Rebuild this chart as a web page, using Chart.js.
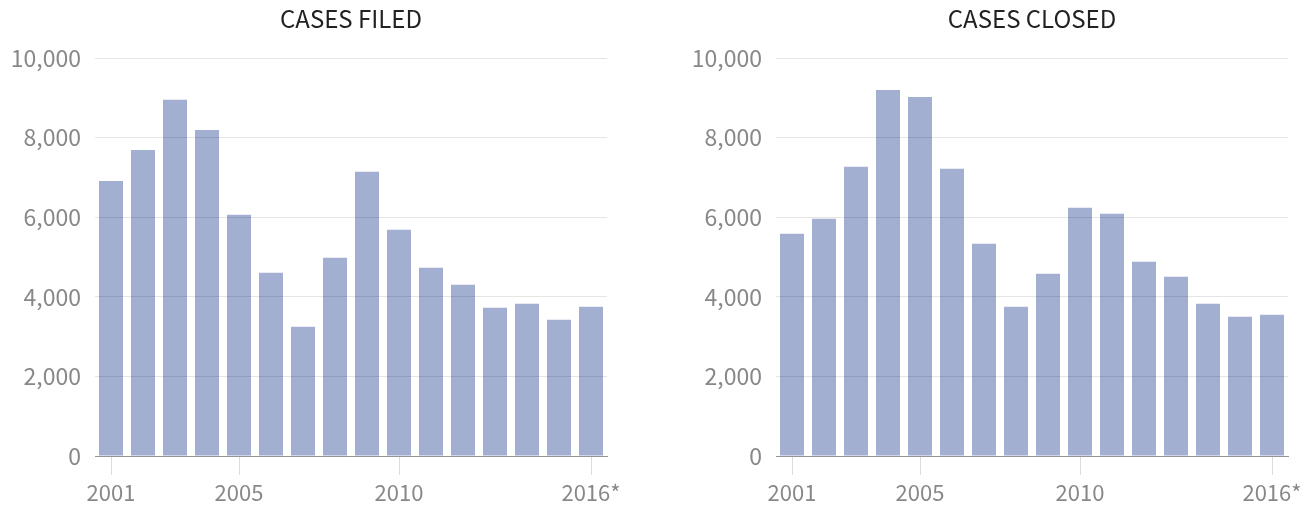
<!DOCTYPE html>
<html><head><meta charset="utf-8">
<script src="https://cdn.jsdelivr.net/npm/chart.js@4"></script>
<style>
html,body{margin:0;padding:0;background:#fff;}
body{width:1307px;height:505px;position:relative;overflow:hidden;}
.box{position:absolute;top:0;height:505px;width:625px;}
canvas{display:block;}
</style></head><body>
<div class="box" style="left:1px"><canvas id="c1" width="625" height="505"></canvas></div>
<div class="box" style="left:682px"><canvas id="c2" width="625" height="505"></canvas></div>
<script>
const years = ['2001','2002','2003','2004','2005','2006','2007','2008','2009','2010','2011','2012','2013','2014','2015','2016*'];
const shownYears = ['2001','2005','2010','2016*'];
const casesFiled = [6910,7690,8950,8190,6060,4605,3250,4980,7140,5685,4730,4305,3725,3825,3425,3750];
const casesClosed = [5585,5960,7265,9195,9020,7215,5335,3750,4580,6235,6085,4880,4505,3825,3500,3550];
const yTicks = [0,2000,4000,6000,8000,10000];
const titles = ['CASES FILED','CASES CLOSED'];

const FONT = "'Noto Sans CJK SC', 'Noto Sans', sans-serif";

const centeredTitle = {
  id: 'centeredTitle',
  afterDraw(chart, args, opts) {
    const ctx = chart.ctx, a = chart.chartArea;
    ctx.save();
    ctx.font = '400 24px ' + FONT;
    ctx.fillStyle = '#222';
    ctx.textAlign = 'center';
    ctx.textBaseline = 'alphabetic';
    ctx.fillText(opts.text, (a.left + a.right) / 2, 28);
    ctx.restore();
  }
};

function makeChart(id, data, title) {
  return new Chart(document.getElementById(id), {
    type: 'bar',
    data: {
      labels: years,
      datasets: [{ data: data, backgroundColor: '#a3afd1', borderWidth: 0,
        barPercentage: 0.75, categoryPercentage: 1.0 }]
    },
    options: {
      responsive: false,
      animation: false,
      events: [],
      layout: { padding: { top: 58, right: 19, bottom: 0, left: 0 }, autoPadding: false },
      plugins: { legend: { display: false }, tooltip: { enabled: false }, centeredTitle: { text: title } },
      scales: {
        x: {
          type: 'category',
          offset: true,
          grid: {
            offset: false, drawOnChartArea: false, drawTicks: true, tickLength: 19, lineWidth: 1,
            color: (c) => (c.tick && shownYears.includes(years[c.index])) ? '#dcdcdc' : 'rgba(0,0,0,0)'
          },
          border: { display: true, color: 'rgba(0,0,0,0.42)', width: 1, z: 1 },
          ticks: {
            autoSkip: false, maxRotation: 0, minRotation: 0, padding: 4, color: '#888',
            font: { family: FONT, size: 22 },
            callback: (v, i) => shownYears.includes(years[i]) ? years[i] : ''
          },
          afterFit: (s) => { s.height = 49; }
        },
        y: {
          min: 0, max: 10000,
          afterBuildTicks: (s) => { s.ticks = yTicks.map(v => ({ value: v })); },
          grid: {
            drawTicks: false, z: 1, lineWidth: 1,
            color: (c) => (c.tick && c.tick.value === 0) ? 'rgba(0,0,0,0)' : 'rgba(0,0,0,0.1)'
          },
          border: { display: false },
          ticks: {
            padding: 14, color: '#888', font: { family: FONT, size: 23 },
            callback: (v) => Number(v).toLocaleString('en-US')
          },
          afterFit: (s) => { s.width = 94; }
        }
      }
    },
    plugins: [centeredTitle]
  });
}
makeChart('c1', casesFiled, titles[0]);
makeChart('c2', casesClosed, titles[1]);
</script>
</body></html>
